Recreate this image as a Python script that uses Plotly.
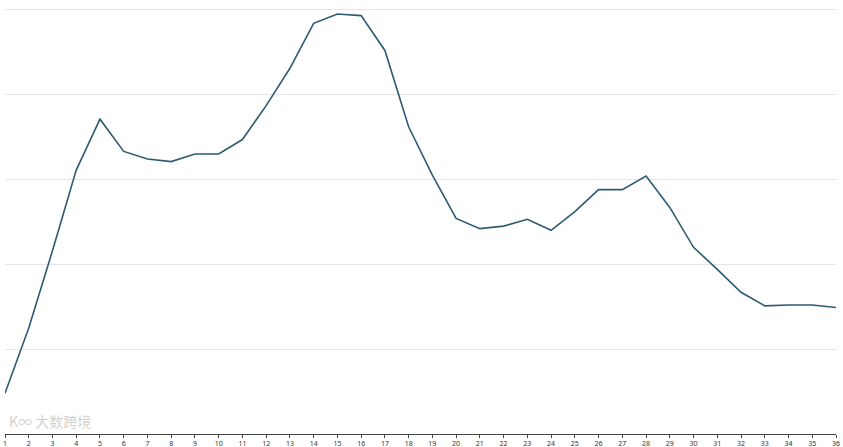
import plotly.graph_objects as go

# x categories (1..36) and the series values
periodos = list(range(1, 37))
valores = [
    0.48, 1.25, 2.16, 3.11, 3.71, 3.33, 3.24, 3.21, 3.30, 3.30,
    3.47, 3.87, 4.31, 4.84, 4.95, 4.93, 4.52, 3.62, 3.05, 2.54,
    2.42, 2.45, 2.53, 2.40, 2.62, 2.88, 2.88, 3.04, 2.67, 2.20,
    1.94, 1.67, 1.51, 1.52, 1.52, 1.49,
]
rotulos = [str(p) for p in periodos]

fig = go.Figure(go.Scatter(
    x=periodos,
    y=valores,
    mode="lines",
    line=dict(color="#2d5a73", width=1.6),
    hoverinfo="x+y",
))

fig.update_layout(
    width=843,
    height=447,
    margin=dict(l=5, r=7, t=8, b=13, autoexpand=False),
    paper_bgcolor="white",
    plot_bgcolor="white",
    showlegend=False,
    font=dict(family="Noto Sans", size=7, color="#333333"),
)

fig.update_xaxes(
    range=[1, 36],
    tickmode="array",
    tickvals=periodos,
    ticktext=rotulos,
    ticks="outside",
    ticklen=3,
    tickcolor="#444444",
    showline=True,
    linecolor="#444444",
    linewidth=1,
    showgrid=False,
    zeroline=False,
    automargin=False,
    tickfont=dict(size=7, color="#333333"),
)

fig.update_yaxes(
    range=[0, 5.02],
    tickvals=[1, 2, 3, 4, 5],
    showticklabels=False,
    showgrid=True,
    gridcolor="#e6e6e6",
    gridwidth=1,
    zeroline=False,
    showline=False,
    automargin=False,
)

# faint watermark in the lower-left corner, just above the axis
fig.add_annotation(
    x=0, y=0, xref="paper", yref="paper",
    xanchor="left", yanchor="bottom",
    text="K∞ 大数跨境",
    showarrow=False,
    font=dict(family="Noto Sans CJK SC", size=14, color="rgba(170,170,170,0.55)"),
    xshift=2, yshift=1,
)

# page body has a default 8px margin; drop it so the figure fills the window
fig.write_html(
    "out.html",
    config={"displayModeBar": False},
    post_script="document.body.style.margin='0';",
)
